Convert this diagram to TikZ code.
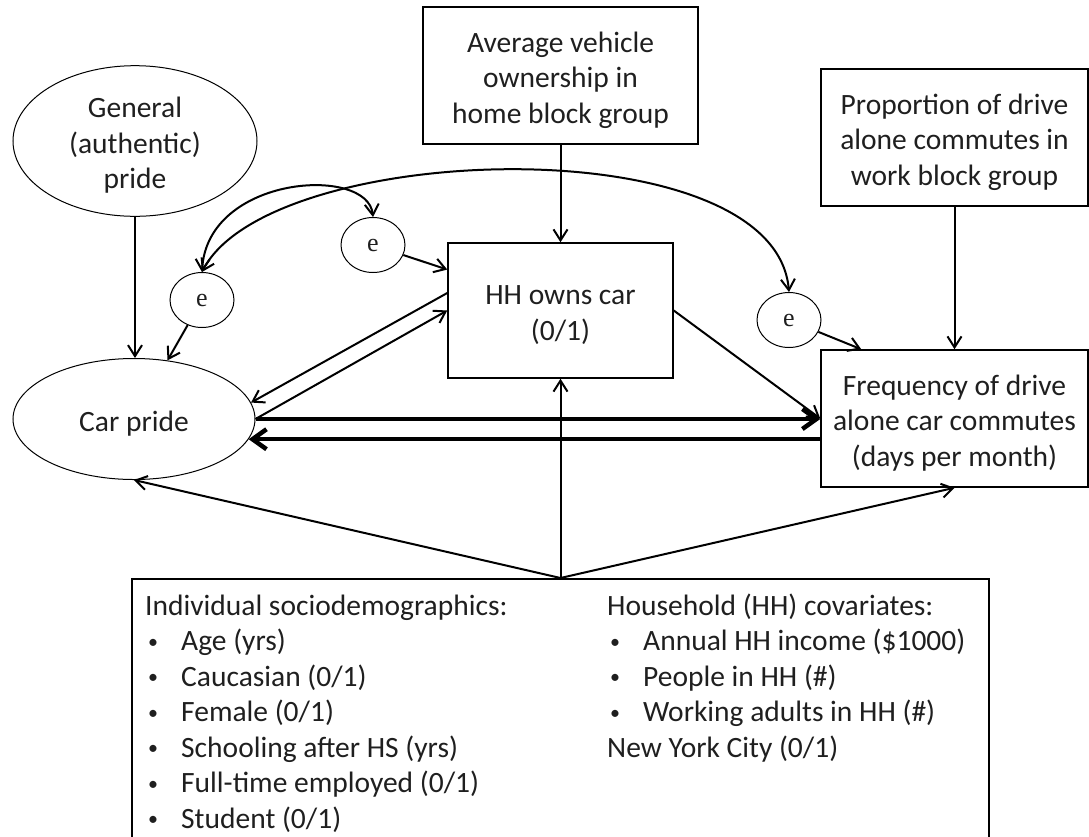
\documentclass[tikz,border=0pt]{standalone}
\usepackage{fontspec}
\setmainfont{Carlito}
\newfontfamily\efont{Liberation Serif}
\usetikzlibrary{arrows.meta,shapes.geometric,calc}
\newcommand\itembul{\makebox[36pt][l]{\hspace{3pt}\raisebox{2.5pt}{\fontsize{20}{20}\selectfont •}}}
\newcommand\lowtxt[1]{\raisebox{-5pt}[\height][\depth]{\begin{tabular}{@{}c@{}}#1\end{tabular}}}
\begin{document}
\begin{tikzpicture}[x=1pt,y=-1pt,
  every node/.style={font=\fontsize{29.5}{35.5}\selectfont, text=black!88},
  rbox/.style={draw, line width=1.5pt, inner sep=0pt, align=center},
  ell/.style={draw, ellipse, line width=1pt, inner sep=0pt, align=center},
  errnode/.style={draw, ellipse, line width=1pt, inner sep=0pt, minimum width=64pt, minimum height=55pt, font=\efont\fontsize{26}{30}\selectfont},
  arr/.style={line width=2pt, -{Straight Barb[length=11pt,width=14pt]}},
  darr/.style={line width=2pt, {Straight Barb[length=11pt,width=14pt]}-{Straight Barb[length=11pt,width=14pt]}},
  tharr/.style={line width=4.5pt, -{Straight Barb[length=14pt,width=20pt]}},
  coltext/.style={anchor=base west, inner sep=0pt}
]
\useasboundingbox (0,0) rectangle (1089,836);

% boxes and ellipses
\node[rbox, minimum width=275pt, minimum height=137pt] (avg) at (560.5,75.5) {\lowtxt{Average vehicle\\ownership in\\home block group}};
\node[rbox, minimum width=267pt, minimum height=137pt] (prop) at (954.5,137.5) {\lowtxt{Proportion of drive\\alone commutes in\\work block group}};
\node[rbox, minimum width=225pt, minimum height=135pt] (hh) at (560.5,310.5) {\lowtxt{HH owns car\\(0/1)}};
\node[rbox, minimum width=267pt, minimum height=137pt] (freq) at (954.5,418.5) {\lowtxt{Frequency of drive\\alone car commutes\\(days per month)}};
\node[ell, minimum width=244pt, minimum height=129pt] (gen) at (135,141) {\lowtxt{General\\(authentic)\\pride}};
\node[ell, minimum width=242pt, minimum height=121pt] (car) at (134,419) {\lowtxt{Car pride}};
\node[errnode] (e1) at (202,300) {e};
\node[errnode] (e2) at (373,245) {e};
\node[errnode] (e3) at (789,320) {e};
\node[rbox, minimum width=857pt, minimum height=272pt, anchor=north] (bot) at (560.5,578) {};

% bottom box contents
\node[coltext] (indiv) at (145,615) {\begin{tabular}[t]{@{}l@{}}
Individual sociodemographics:\\
\itembul Age (yrs)\\
\itembul Caucasian (0/1)\\
\itembul Female (0/1)\\
\itembul Schooling after HS (yrs)\\
\itembul Full-time employed (0/1)\\
\itembul Student (0/1)
\end{tabular}};
\node[coltext] (hhcov) at (607,615) {\begin{tabular}[t]{@{}l@{}}
Household (HH) covariates:\\
\itembul Annual HH income (\$1000)\\
\itembul People in HH (\#)\\
\itembul Working adults in HH (\#)\\
New York City (0/1)
\end{tabular}};

% connectors
\draw[arr] (gen.south) -- (gen.south |- car.north);
\draw[arr] (e1) -- (car);
\draw[arr] (e2) -- ($(hh.north west)!0.2!(hh.south west)$);
\draw[arr] (avg.south) -- (hh.north);
\draw[arr] (prop.south) -- (freq.north);
\draw[arr] (e3) -- ($(freq.north west)+(41,0)$);
\draw[arr] (hh.east) -- (freq.west);
\draw[arr] ($(hh.west)+(0,-17.5)$) -- (car.8);
\draw[arr] (car.east) -- (hh.west);
\draw[tharr] (car.east) -- (car.east -| freq.west);
\draw[tharr] (car.-10 -| freq.west) -- (car.-10);
\draw[arr] (bot.north) -- (car.south);
\draw[arr] (bot.north) -- (hh.south);
\draw[arr] (bot.north) -- (freq.south);

% correlated errors
\draw[darr] (e1.north) .. controls (207,175) and (368,165) .. (e2.north);
\draw[darr] (e1.north) .. controls (270,140) and (775,125) .. (e3.north);
\end{tikzpicture}
\end{document}
